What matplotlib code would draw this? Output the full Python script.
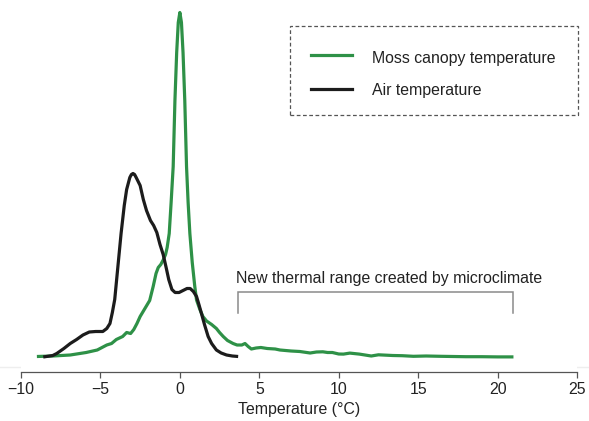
import matplotlib
matplotlib.use("Agg")
import matplotlib.pyplot as plt
from matplotlib.patches import Rectangle
from matplotlib.lines import Line2D

plt.rcParams['font.family'] = ['Liberation Sans', 'DejaVu Sans']

# ---- data (relative density, arbitrary units) ----
moss_x = [-9.0, -8.0, -6.9, -5.9, -5.2, -4.6, -4.3, -4.0, -3.6, -3.35, -3.1, -2.9,
          -2.7, -2.5, -2.2, -1.9, -1.68, -1.5, -1.36, -1.2, -1.05, -0.9, -0.8,
          -0.67, -0.55, -0.42, -0.31, -0.2, -0.1, 0.0, 0.1, 0.2, 0.31, 0.42, 0.52,
          0.63, 0.78, 0.94, 1.05, 1.26, 1.45, 1.68, 2.0, 2.3, 2.5, 2.73, 3.0, 3.35,
          3.6, 3.9, 4.1, 4.3, 4.5, 4.8, 5.1, 5.5, 6.0, 6.3, 7.0, 7.55, 8.2, 8.6,
          9.0, 9.3, 9.6, 10.0, 10.3, 10.7, 11.3, 12.05, 12.5, 13.4, 14.0, 14.7,
          15.5, 16.4, 17.2, 18.0, 19.0, 20.0, 21.0]
moss_y = [1, 1.5, 2.5, 5, 7.5, 12.5, 14, 18, 21, 25, 24, 28,
          34, 41, 49, 57, 71, 84, 90, 93, 97.5, 103, 110,
          124, 155, 191, 257, 305, 335, 345, 335, 305, 257, 191, 155,
          124, 95, 71, 57.5, 48, 41, 36.5, 33, 29, 25, 21, 17, 14,
          12.5, 12.5, 14, 11, 8.5, 9.5, 10, 9, 8.5, 7.5, 6.5, 6, 4.5, 5.5,
          5.7, 5, 5, 3.5, 3.4, 4.4, 3.4, 1.5, 2.7, 2, 1.8, 1.2,
          1.5, 1.2, 1, 0.8, 0.8, 0.6, 0.6]

air_x = [-8.6, -8.0, -7.75, -7.3, -6.9, -6.5, -6.1, -5.7, -5.3, -4.85, -4.6, -4.4,
         -4.25, -4.1, -3.9, -3.7, -3.5, -3.35, -3.15, -3.05, -2.95, -2.85, -2.75,
         -2.5, -2.3, -2.1, -1.85, -1.65, -1.45, -1.25, -1.05, -0.85, -0.7, -0.5,
         -0.3, -0.05, 0.2, 0.45, 0.65, 0.85, 1.05, 1.2, 1.36, 1.55, 1.78, 2.0,
         2.3, 2.6, 2.94, 3.3, 3.67]
air_y = [0.5, 2, 4, 9, 14, 18, 22.5, 25.5, 26, 26, 29, 34,
         45, 58, 91, 124, 152, 168, 180, 183, 184, 183, 180,
         172, 158, 147, 137, 132, 125, 113, 103, 89, 78, 68,
         65, 65, 67, 69, 69, 66, 61, 53, 44, 33, 21, 14,
         7.5, 4.5, 2.5, 1.5, 1]

x_ticks = [-10, -5, 0, 5, 10, 15, 20, 25]
x_label = "Temperature (°C)"
series_labels = ["Moss canopy temperature", "Air temperature"]
range_start, range_end = 3.65, 21.0
range_label = "New thermal range created by microclimate"

GREEN = '#2e9147'
BLACK = '#1c1c1c'

W, H = 589, 421
fig = plt.figure(figsize=(W / 100, H / 100), dpi=100)
ax = fig.add_axes([21 / W, 1 - 372 / H, 556 / W, 372 / H])

ax.plot(moss_x, moss_y, color=GREEN, lw=2.3, solid_capstyle='butt',
        solid_joinstyle='round', zorder=3, clip_on=False)
ax.plot(air_x, air_y, color=BLACK, lw=2.3, solid_capstyle='butt',
        solid_joinstyle='round', zorder=4, clip_on=False)

ax.set_xlim(-10, 25)
ax.set_ylim(-14.5, 357.5)
ax.set_xticks(x_ticks)
ax.set_yticks([])
for s in ['top', 'right', 'left']:
    ax.spines[s].set_visible(False)
ax.spines['bottom'].set_color('#555555')
ax.spines['bottom'].set_linewidth(0.9)
ax.tick_params(axis='x', length=4.5, width=0.9, color='#555555', pad=2.5,
               labelsize=11.4, labelcolor='#222222')
ax.set_xlabel(x_label, fontsize=11.4, color='#222222', labelpad=4)

# bracket annotation
bc = '#8a8a8a'
ax.plot([range_start, range_start, range_end, range_end], [44.5, 65.5, 65.5, 44.5],
        color=bc, lw=1.1, solid_joinstyle='miter', zorder=2)
ax.text(3.52, 74.5, range_label, fontsize=11.4, color='#222222', va='baseline',
        ha='left')

# faint background line
fig.add_artist(Line2D([0, 1], [1 - 367 / H, 1 - 367 / H], transform=fig.transFigure,
                      color='#eeeeee', lw=1, zorder=0))

# legend drawn manually
def ax_x(px):
    return (px - 21) / 556

def ax_y(py):
    return (372 - py) / 372

rect = Rectangle((ax_x(289.5), ax_y(115)), ax_x(577.5) - ax_x(289.5),
                 ax_y(26) - ax_y(115), transform=ax.transAxes, fill=False,
                 edgecolor='#555555', lw=0.9, linestyle=(0, (3, 2)), clip_on=False)
ax.add_patch(rect)
for col, lab, ly, ty in [(GREEN, series_labels[0], 55, 62.5),
                         (BLACK, series_labels[1], 89, 95.5)]:
    ax.add_line(Line2D([ax_x(310.5), ax_x(352)], [ax_y(ly), ax_y(ly)],
                       transform=ax.transAxes, color=col, lw=2.3, clip_on=False))
    ax.text(ax_x(372), ax_y(ty), lab, transform=ax.transAxes, fontsize=11.4,
            color='#222222', va='baseline', ha='left')

fig.savefig('out.png', dpi=100)
